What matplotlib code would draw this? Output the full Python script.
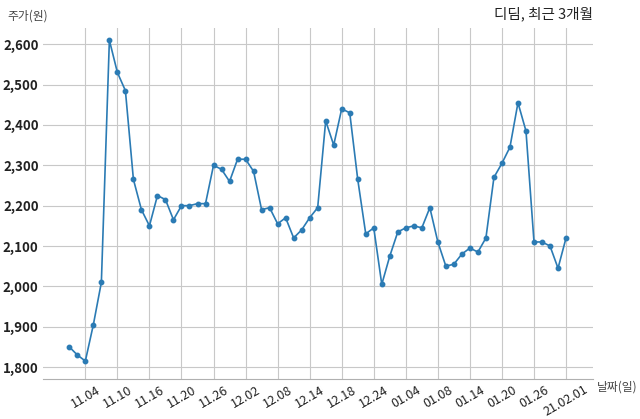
import matplotlib
matplotlib.use("Agg")
import matplotlib.pyplot as plt
import numpy as np

plt.rcParams['font.family'] = ['Noto Sans CJK KR', 'DejaVu Sans']

# 종가 (원), 최근 3개월 거래일
prices = [1850, 1830, 1815, 1905, 2010, 2610, 2530, 2485, 2265, 2190,
          2150, 2225, 2215, 2165, 2200, 2200, 2205, 2205, 2300, 2290,
          2260, 2315, 2315, 2285, 2190, 2195, 2155, 2170, 2120, 2140,
          2170, 2195, 2410, 2350, 2440, 2430, 2265, 2130, 2145, 2005,
          2075, 2135, 2145, 2150, 2145, 2195, 2110, 2050, 2055, 2080,
          2095, 2085, 2120, 2270, 2305, 2345, 2455, 2385, 2110, 2110,
          2100, 2045, 2120]
tick_pos = [2, 6, 10, 14, 18, 22, 26, 30, 34, 38, 42, 46, 50, 54, 58, 62]
tick_labels = ['11.04', '11.10', '11.16', '11.20', '11.26', '12.02', '12.08',
               '12.14', '12.18', '12.24', '01.04', '01.08', '01.14', '01.20',
               '01.26', '21.02.01']
y_ticks = [1800, 1900, 2000, 2100, 2200, 2300, 2400, 2500, 2600]

x = np.arange(len(prices))

fig = plt.figure(figsize=(6.4, 4.19), dpi=100)
ax = fig.add_axes([0.067, 0.095, 0.86, 0.838])
ax.plot(x, prices, color='#2b7bb4', lw=1.2, marker='o', ms=3.2)

ax.set_xlim(-3.3, 65.4)
ax.set_ylim(1770, 2640)
ax.set_xticks(tick_pos)
ax.set_xticklabels(tick_labels, rotation=30, fontsize=9, color='#222222')
ax.set_yticks(y_ticks)
ax.set_yticklabels([f'{v:,}' for v in y_ticks], fontsize=9.5,
                   fontweight='bold', color='#222222')
ax.tick_params(length=0, pad=3)
ax.grid(True, color='#c8c8c8', lw=0.8)
ax.set_axisbelow(True)
for s in ['top', 'right', 'left']:
    ax.spines[s].set_visible(False)
ax.spines['bottom'].set_color('#b0b0b0')

fig.text(0.011, 0.962, '주가(원)', fontsize=8.5, color='#444444', va='center')
fig.text(0.927, 0.967, '디딤, 최근 3개월', fontsize=10.5, color='#222222',
         va='center', ha='right')
fig.text(0.932, 0.077, '날짜(일)', fontsize=8.5, color='#444444', va='center')

fig.savefig('out.png', dpi=100)
